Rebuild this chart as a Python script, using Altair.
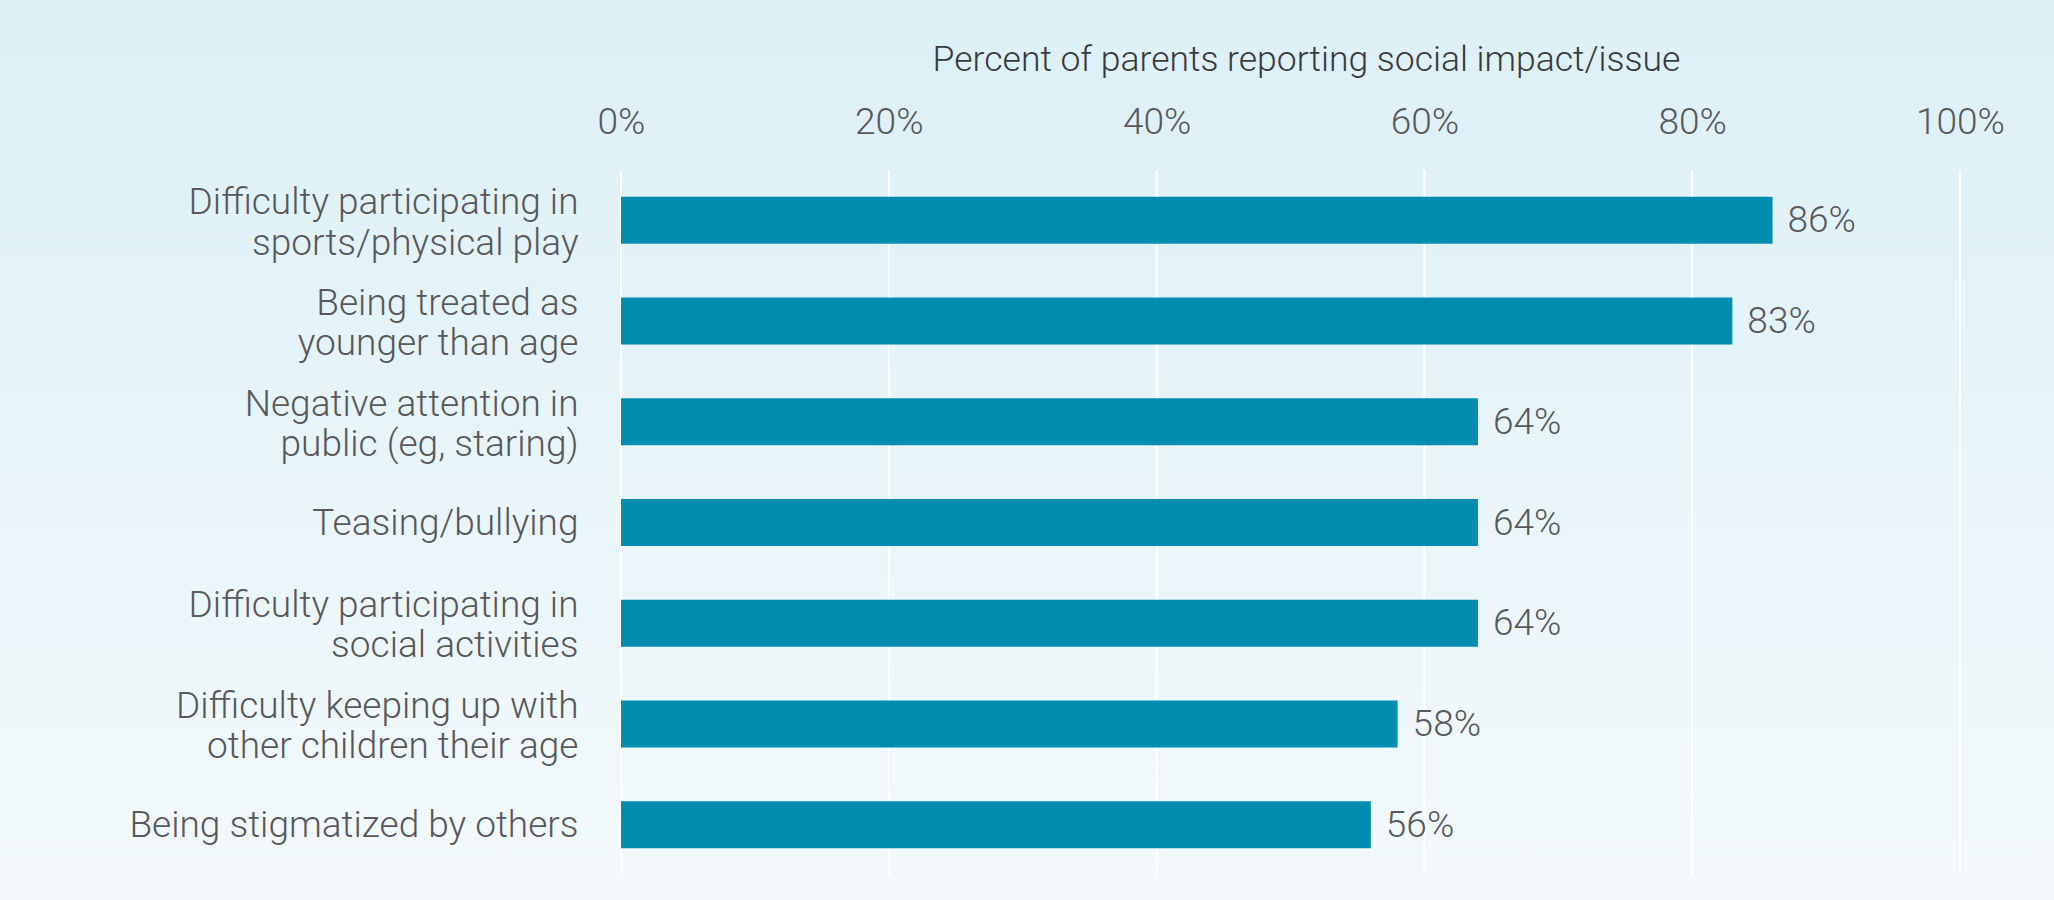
import altair as alt
import pandas as pd

categories = [
    "Difficulty participating in|sports/physical play",
    "Being treated as|younger than age",
    "Negative attention in|public (eg, staring)",
    "Teasing/bullying",
    "Difficulty participating in|social activities",
    "Difficulty keeping up with|other children their age",
    "Being stigmatized by others",
]
values = [86, 83, 64, 64, 64, 58, 56]
x_ticks = [0, 20, 40, 60, 80, 100]

df = pd.DataFrame({"cat": categories, "val": values})
df["lbl"] = df["val"].astype(str) + "%"
grid_df = pd.DataFrame({"val": x_ticks})

FONT = "Roboto"
FW = 300
LABEL_COLOR = "#58585a"
BAR_COLOR = "#028db0"
FS = 37
LH = 40.5

W, H = 1339, 705
LEFT, TOP = 621, 170

xscale = alt.Scale(domain=[0, 100], nice=False)

bg = alt.Chart(pd.DataFrame({"a": [0]})).mark_rect(
    fill=alt.Gradient(
        gradient="linear",
        stops=[alt.GradientStop(color="#dcf0f6", offset=0),
               alt.GradientStop(color="#f3f9fb", offset=1)],
        x1=0, x2=0, y1=0, y2=1,
    ),
    clip=False,
).encode(
    x=alt.value(-LEFT), x2=alt.value(2054 - LEFT),
    y=alt.value(-TOP), y2=alt.value(900 - TOP),
)

xaxis = alt.Axis(
    orient="top", values=x_ticks, labelExpr="datum.value + '%'", zindex=1,
    title="Percent of parents reporting social impact/issue",
    titleFont=FONT, titleFontSize=35.5, titleFontWeight=FW,
    titleColor="#3a3a3c", titleX=685, titleY=-100, titleBaseline="alphabetic",
    titleAlign="center",
    domain=False, ticks=False, grid=False, labelFlush=False,
    labelFont=FONT, labelFontWeight=FW, labelFontSize=FS, labelColor=LABEL_COLOR,
    labelBaseline="alphabetic", labelPadding=37,
)

grid = alt.Chart(grid_df).mark_rule(color="white", strokeWidth=2).encode(
    x=alt.X("val:Q", scale=xscale, axis=xaxis),
)

yenc = alt.Y(
    "cat:N", sort=categories,
    scale=alt.Scale(paddingInner=0.533, paddingOuter=0.2665),
    axis=alt.Axis(
        title=None, domain=False, ticks=False, grid=False, zindex=1,
        labelExpr="split(datum.label, '|')",
        labelFont=FONT, labelFontWeight=FW, labelFontSize=FS, labelColor=LABEL_COLOR,
        labelLineHeight=LH, labelPadding=43, labelLimit=700,
        labelBaseline="middle",
        labelOffset={"condition": {"test": "indexof(datum.value, '|') >= 0",
                                   "value": -LH / 2 + 3},
                     "value": 1},
    ),
)

bars = alt.Chart(df).mark_bar(color=BAR_COLOR).encode(
    x=alt.X("val:Q", scale=xscale, axis=xaxis), y=yenc
)

texts = alt.Chart(df).mark_text(
    align="left", baseline="middle", dx=15, dy=1, font=FONT, fontWeight=FW, fontSize=FS,
    color=LABEL_COLOR,
).encode(x=alt.X("val:Q", scale=xscale), y=alt.Y("cat:N", sort=categories), text="lbl:N")

chart = alt.layer(bg, grid, bars, texts).properties(
    width=W, height=H,
    autosize=alt.AutoSizeParams(type="none"),
    padding={"left": LEFT, "top": TOP, "right": 2054 - LEFT - W, "bottom": 900 - TOP - H},
    background="#e8f5f8",
).configure_view(stroke=None)

chart.save("out.html", embed_options={"renderer": "svg", "actions": False})
